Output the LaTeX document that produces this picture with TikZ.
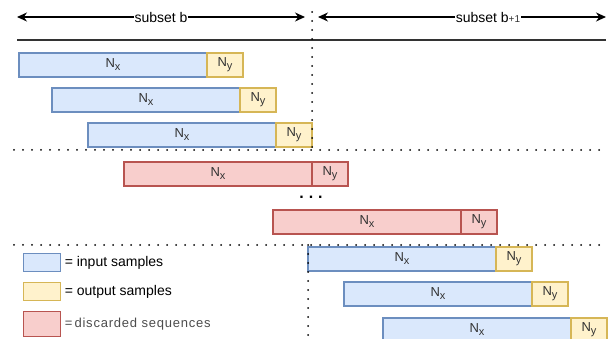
\documentclass[tikz,border=0pt]{standalone}
\usepackage{fontspec}
\setmainfont{Liberation Sans}
\usetikzlibrary{arrows.meta,positioning}
\definecolor{inblue}{HTML}{DAE8FC}
\definecolor{inbluedark}{HTML}{6C8EBF}
\definecolor{outyel}{HTML}{FFF2CC}
\definecolor{outyeldark}{HTML}{D6B656}
\definecolor{disred}{HTML}{F8CECC}
\definecolor{disreddark}{HTML}{B85450}
\definecolor{txt}{HTML}{333333}
\newcommand{\nsub}[1]{N\raisebox{-3pt}{\fontsize{11}{12}\selectfont #1}}

\begin{document}
\begin{tikzpicture}[x=1pt,y=-1pt,>={Stealth[length=10pt,width=9pt]},
                    line width=1.2pt]
  \tikzstyle{blk}=[draw, outer sep=0pt, inner sep=0pt, minimum height=24pt,
                   line width=1.2pt, text=txt, font=\fontsize{13}{15}\selectfont]
  \tikzstyle{nx}=[blk, fill=inblue, draw=inbluedark, minimum width=188pt,
                  anchor=north west]
  \tikzstyle{ny}=[blk, fill=outyel, draw=outyeldark, minimum width=36pt]
  \tikzstyle{dx}=[nx, fill=disred, draw=disreddark]
  \tikzstyle{dy}=[ny, fill=disred, draw=disreddark]
  \tikzstyle{sep}=[line width=2pt, dash pattern=on 0pt off 9pt, line cap=round]
  \tikzstyle{lab}=[fill=white, inner sep=1pt, text=black,
                   font=\fontsize{14}{16}\selectfont]
  \tikzstyle{leg}=[draw, line width=1.2pt, minimum width=37pt, inner sep=0pt,
                   anchor=north west]
  \tikzstyle{legtxt}=[anchor=west, inner sep=0pt, font=\fontsize{14}{16}\selectfont]

  \useasboundingbox (0,0) rectangle (616,339);

  % subsets
  \coordinate (L1) at (17,17);
  \coordinate (L2) at (305,17);
  \coordinate (R1) at (318,17);
  \coordinate (R2) at (606,17);
  \draw[<->] (L1) -- node[lab] {subset b} (L2);
  \draw[<->] (R1) -- node[lab, pos=0.59] {subset b{\fontsize{10}{12}\selectfont\color{txt}+1}} (R2);
  \coordinate (H1) at (17,40);
  \coordinate (H2) at (606,40);
  \draw[txt, line width=1.3pt] (H1) -- (H2);

  % separators
  \coordinate (V1) at (312,12);
  \coordinate (V2) at (312,150);
  \coordinate (V3) at (308,245);
  \coordinate (V4) at (308,345);
  \coordinate (S1) at (14,150);
  \coordinate (S2) at (606,150);
  \coordinate (S3) at (14,245);
  \coordinate (S4) at (606,245);

  % subset b
  \node[nx] (A1) at (19,53)  {\nsub{x}};
  \node[ny] (B1) [right=0pt of A1] {\nsub{y}};
  \node[nx] (A2) at (52,88)  {\nsub{x}};
  \node[ny] (B2) [right=0pt of A2] {\nsub{y}};
  \node[nx] (A3) at (88,123) {\nsub{x}};
  \node[ny] (B3) [right=0pt of A3] {\nsub{y}};

  % discarded
  \node[dx] (C1) at (124,162) {\nsub{x}};
  \node[dy] (D1) [right=0pt of C1] {\nsub{y}};
  \node[dx] (C2) at (273,210) {\nsub{x}};
  \node[dy] (D2) [right=0pt of C2] {\nsub{y}};
  \node[font=\fontsize{16}{18}\selectfont\bfseries] (dots) at (311,197)
       {.\kern5pt.\kern5pt.};

  % subset b+1
  \node[nx] (A4) at (308,247) {\nsub{x}};
  \node[ny] (B4) [right=0pt of A4] {\nsub{y}};
  \node[nx] (A5) at (344,282) {\nsub{x}};
  \node[ny] (B5) [right=0pt of A5] {\nsub{y}};
  \node[nx] (A6) at (383,318) {\nsub{x}};
  \node[ny] (B6) [right=0pt of A6] {\nsub{y}};

  \draw[sep] (V1) -- (V2);
  \draw[sep] (V3) -- (V4);
  \draw[sep] (S1) -- (S2);
  \draw[sep] (S3) -- (S4);

  % legend
  \node[leg, fill=inblue, draw=inbluedark, minimum height=18pt] (G1) at (23,253) {};
  \node[legtxt, text=black] (T1) [right=3pt of G1] {= input samples};
  \node[leg, fill=outyel, draw=outyeldark, minimum height=18pt] (G2) at (23,282) {};
  \node[legtxt, text=black] (T2) [right=3pt of G2] {= output samples};
  \node[leg, fill=disred, draw=disreddark, minimum height=25pt] (G3) at (23,311) {};
  \node[legtxt, text=black!70, font=\fontsize{13}{15}\selectfont] (T3) [right=3pt of G3]
       {=\,\addfontfeature{LetterSpace=6}discarded sequences};
\end{tikzpicture}
\end{document}
